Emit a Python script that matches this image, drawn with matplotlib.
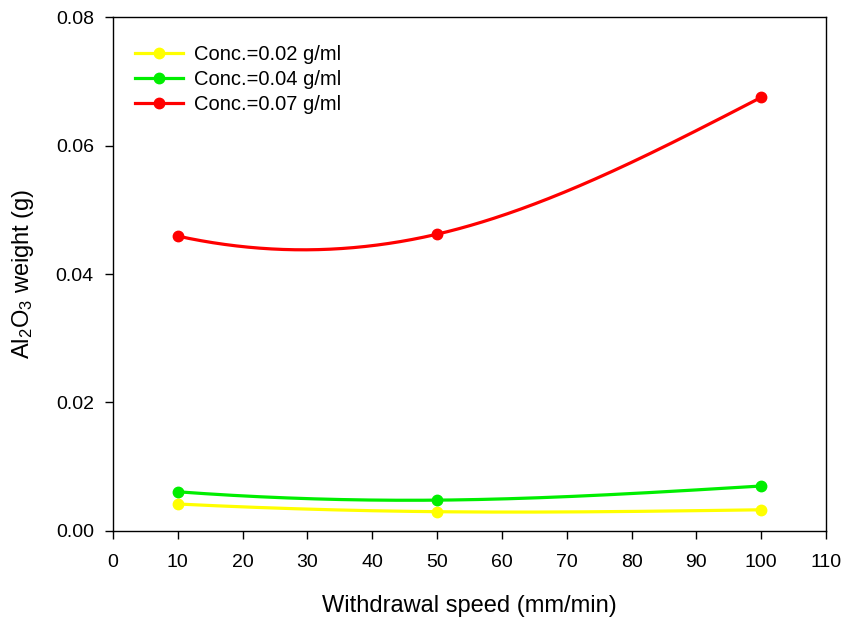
import matplotlib
matplotlib.use('Agg')
import matplotlib.pyplot as plt
from matplotlib.lines import Line2D
import numpy as np

plt.rcParams['font.family'] = ['Liberation Sans', 'DejaVu Sans']
plt.rcParams['mathtext.default'] = 'regular'

speed = [10, 50, 100]
w_002 = [0.0042, 0.0030, 0.0033]
w_004 = [0.0061, 0.0048, 0.0070]
w_007 = [0.0459, 0.0462, 0.0675]
labels = ['Conc.=0.02 g/ml', 'Conc.=0.04 g/ml', 'Conc.=0.07 g/ml']
colors = ['#ffff00', '#00ee00', '#ff0000']


def spline(x, y, n=300):
    # cubic spline: parabolic runout at the start, natural at the end
    x = np.asarray(x, float)
    y = np.asarray(y, float)
    m = len(x)
    h = np.diff(x)
    A = np.zeros((m, m))
    b = np.zeros(m)
    A[0, 0], A[0, 1] = 1, -1
    A[-1, -1] = 1
    for i in range(1, m - 1):
        A[i, i - 1] = h[i - 1]
        A[i, i] = 2 * (h[i - 1] + h[i])
        A[i, i + 1] = h[i]
        b[i] = 6 * ((y[i + 1] - y[i]) / h[i] - (y[i] - y[i - 1]) / h[i - 1])
    M = np.linalg.solve(A, b)
    xx = np.linspace(x[0], x[-1], n)
    k = np.clip(np.searchsorted(x, xx) - 1, 0, m - 2)
    hk = h[k]
    a = x[k + 1] - xx
    c = xx - x[k]
    yy = (M[k] * a**3 / (6 * hk) + M[k + 1] * c**3 / (6 * hk)
          + (y[k] / hk - M[k] * hk / 6) * a + (y[k + 1] / hk - M[k + 1] * hk / 6) * c)
    return xx, yy


fig = plt.figure(figsize=(8.46, 6.19), dpi=100)
ax = fig.add_axes([0.1336, 0.1422, 0.8428, 0.8303])

handles = []
for ys, col in zip([w_002, w_004, w_007], colors):
    cx, cy = spline(speed, ys)
    ax.plot(cx, cy, color=col, lw=2.3, solid_capstyle='round', zorder=2)
    ax.plot(speed, ys, 'o', color=col, ms=7.5, zorder=3)
    handles.append(Line2D([], [], color=col, lw=2.3, marker='o', ms=7.5))

ax.set_xlim(0, 110)
ax.set_ylim(0, 0.08)
ax.set_xticks(np.arange(0, 111, 10))
ax.set_yticks(np.arange(0, 0.081, 0.02))
ax.yaxis.set_major_formatter(plt.FormatStrFormatter('%.2f'))
ax.tick_params(direction='out', length=5.8, width=1, labelsize=14, top=False, right=False)
ax.tick_params(axis='x', pad=11)
ax.tick_params(axis='y', pad=8)
for s in ax.spines.values():
    s.set_linewidth(1)

ax.set_xlabel('Withdrawal speed (mm/min)', fontsize=17, labelpad=17)
ax.set_ylabel('Al$_2$O$_3$ weight (g)', fontsize=17, labelpad=14)

ax.legend(handles, labels, loc='upper left', bbox_to_anchor=(0.031, 0.946), frameon=False,
          fontsize=14.5, handlelength=2.4, handletextpad=0.5, labelspacing=0.3,
          borderaxespad=0, borderpad=0)

fig.savefig('out.png', dpi=100)
